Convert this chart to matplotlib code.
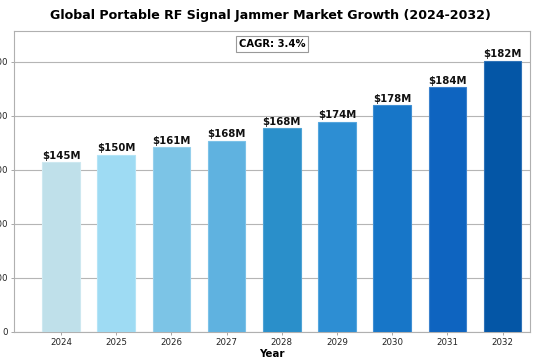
import matplotlib
matplotlib.use("Agg")
import matplotlib.pyplot as plt

years = ['2024', '2025', '2026', '2027', '2028', '2029', '2030', '2031', '2032']
# bar heights as drawn (axis units)
bar_heights = [314, 328, 342, 354, 377, 389, 420, 453, 502]
# value labels printed above the bars
value_labels = ['$145M', '$150M', '$161M', '$168M', '$168M', '$174M', '$178M', '$184M', '$182M']
bar_colors = ['#bfe0ea', '#9edbf3', '#7cc4e6', '#5fb2e0', '#2a8fca', '#2d8ed3',
              '#1776c8', '#0e64c0', '#0456a6']
edge_colors = ['#cde8f0', '#b4e4f6', '#96d0ec', '#7cc2e8', '#4fa3d5', '#55a6de',
               '#3f8fd3', '#3c82cd', '#2f73b8']
cagr_text = 'CAGR: 3.4%'

fig = plt.figure(figsize=(5.4, 3.6), dpi=100)
ax = fig.add_axes([0.026, 0.078, 0.956, 0.837])

x = range(len(years))
bars = ax.bar(x, bar_heights, width=0.68, color=bar_colors,
              edgecolor=edge_colors, linewidth=0.8, zorder=3)

for bar, lab in zip(bars, value_labels):
    ax.text(bar.get_x() + bar.get_width() / 2, bar.get_height() + 3, lab,
            ha='center', va='bottom', fontsize=7.3, fontweight='bold',
            color='#111111', zorder=4)

ax.set_ylim(0, 558)
ax.set_xlim(-0.85, 8.5)
ax.set_yticks([0, 100, 200, 300, 400, 500])
ax.set_xticks(list(x))
ax.set_xticklabels(years)
ax.tick_params(axis='both', labelsize=6.2, length=2.5, width=0.6,
               color='#999999', pad=2, labelcolor='#222222')
ax.yaxis.grid(True, color='#b5b5b5', linewidth=0.8, zorder=0)
ax.set_axisbelow(True)
for s in ax.spines.values():
    s.set_color('#b0b0b0')
    s.set_linewidth(0.8)

ax.set_xlabel('Year', fontsize=7.4, fontweight='bold', labelpad=1)
fig.suptitle('Global Portable RF Signal Jammer Market Growth (2024-2032)',
             fontsize=9.1, fontweight='bold', y=0.975)

ax.text(0.5, 0.955, cagr_text, transform=ax.transAxes, ha='center', va='center',
        fontsize=7.2, fontweight='bold',
        bbox=dict(boxstyle='square,pad=0.3', facecolor='white',
                  edgecolor='#999999', linewidth=0.8))

fig.savefig('out.png', dpi=100)
